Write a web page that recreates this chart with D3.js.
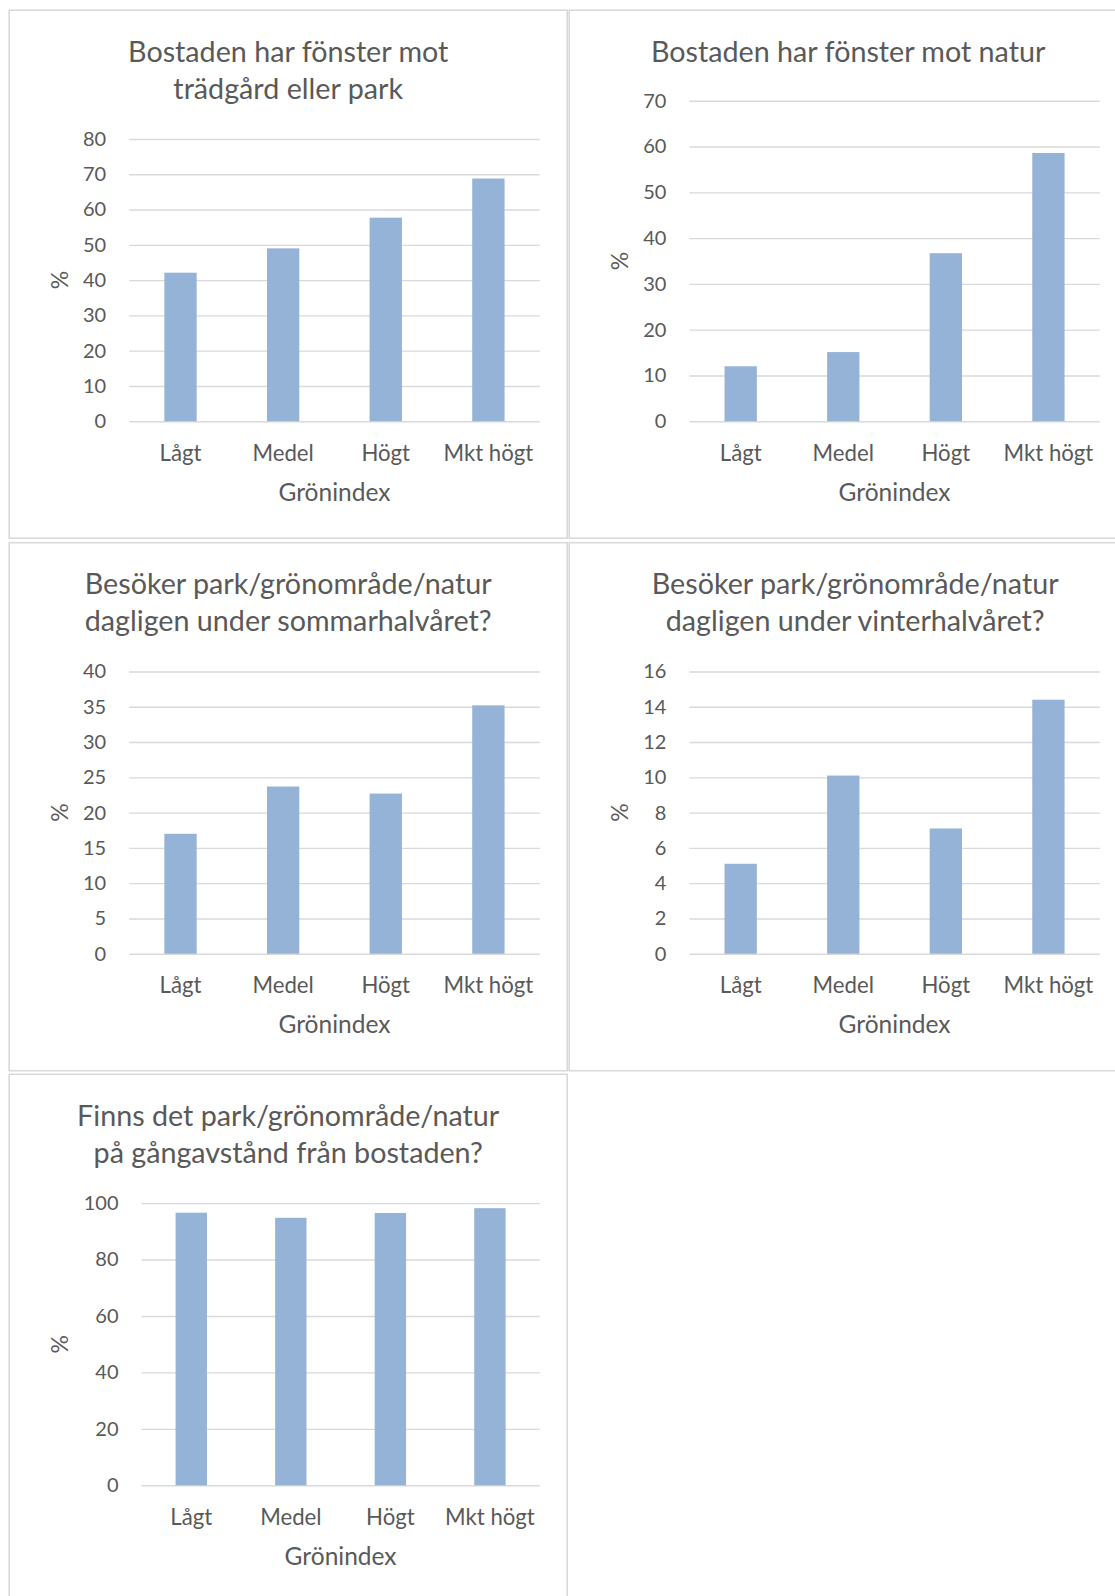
<!DOCTYPE html>
<html>
<head>
<meta charset="utf-8">
<script src="https://cdn.jsdelivr.net/npm/d3@7"></script>
<style>
  html, body { margin: 0; padding: 0; background: #ffffff; }
  svg { display: block; }
  text { font-family: Lato, "Open Sans", sans-serif; fill: #595959; }
</style>
</head>
<body>
<svg id="chart" width="1115" height="1596"></svg>
<script>
// Category axis shared by all five panels
const categories = ["Lågt", "Medel", "Högt", "Mkt högt"];

// Share (%) per green-index group
const windowGardenValues   = [42.1, 49.0, 57.7, 68.8];
const windowNatureValues   = [12.0, 15.1, 36.7, 58.6];
const visitSummerValues    = [17.0, 23.7, 22.7, 35.2];
const visitWinterValues    = [5.1, 10.1, 7.1, 14.4];
const walkingDistValues    = [96.6, 94.8, 96.5, 98.2];

// Y tick values per panel
const windowGardenTicks = [0, 10, 20, 30, 40, 50, 60, 70, 80];
const windowNatureTicks = [0, 10, 20, 30, 40, 50, 60, 70];
const visitSummerTicks  = [0, 5, 10, 15, 20, 25, 30, 35, 40];
const visitWinterTicks  = [0, 2, 4, 6, 8, 10, 12, 14, 16];
const walkingDistTicks  = [0, 20, 40, 60, 80, 100];

// Panel titles (one entry per line)
const windowGardenTitle = ["Bostaden har fönster mot", "trädgård eller park"];
const windowNatureTitle = ["Bostaden har fönster mot natur"];
const visitSummerTitle  = ["Besöker park/grönområde/natur", "dagligen under sommarhalvåret?"];
const visitWinterTitle  = ["Besöker park/grönområde/natur", "dagligen under vinterhalvåret?"];
const walkingDistTitle  = ["Finns det park/grönområde/natur", "på gångavstånd från bostaden?"];

const xAxisTitle = "Grönindex";
const yAxisTitle = "%";

const panels = [
  { x: 9.2,   y: 10.2,   title: windowGardenTitle, values: windowGardenValues, ticks: windowGardenTicks, left: 120.0, titleDx: 0 },
  { x: 569.2, y: 10.2,   title: windowNatureTitle, values: windowNatureValues, ticks: windowNatureTicks, left: 120.2, titleDx: 0 },
  { x: 9.2,   y: 542.7,  title: visitSummerTitle,  values: visitSummerValues,  ticks: visitSummerTicks,  left: 120.0, titleDx: 0 },
  { x: 569.2, y: 542.7,  title: visitWinterTitle,  values: visitWinterValues,  ticks: visitWinterTicks,  left: 120.2, titleDx: 7 },
  { x: 9.2,   y: 1074.3, title: walkingDistTitle,  values: walkingDistValues,  ticks: walkingDistTicks,  left: 132.3, titleDx: 0 }
];

const PANEL_W = 558, PANEL_H = 528;
const PLOT_RIGHT = 530.5, PLOT_BOTTOM = 411;
const BAR_COLOR = "#95b3d7", GRID_COLOR = "#d9d9d9";

const svg = d3.select("#chart");

panels.forEach(p => {
  const g = svg.append("g").attr("transform", `translate(${p.x},${p.y})`);

  // panel frame
  g.append("rect")
    .attr("x", 0).attr("y", 0)
    .attr("width", PANEL_W).attr("height", PANEL_H)
    .attr("fill", "#ffffff")
    .attr("stroke", GRID_COLOR).attr("stroke-width", 1.6);

  // title
  const titleLineGap = 37;
  const titleFirstY = 40.5;
  g.append("g").selectAll("text")
    .data(p.title)
    .join("text")
    .attr("x", PANEL_W / 2 + p.titleDx)
    .attr("y", (d, i) => titleFirstY + i * titleLineGap)
    .attr("text-anchor", "middle")
    .attr("dominant-baseline", "central")
    .attr("font-size", 28.7)
    .text(d => d);

  const top = p.title.length > 1 ? 128.8 : 90.6;

  const x = d3.scaleBand()
    .domain(categories)
    .range([p.left, PLOT_RIGHT])
    .paddingInner(0.685)
    .paddingOuter(0.3425);

  const y = d3.scaleLinear()
    .domain([0, d3.max(p.ticks)])
    .range([PLOT_BOTTOM, top]);

  // horizontal gridlines + value labels
  const yAxis = d3.axisLeft(y)
    .tickValues(p.ticks)
    .tickSize(-(PLOT_RIGHT - p.left))
    .tickPadding(23)
    .tickFormat(d3.format("d"));

  const ya = g.append("g")
    .attr("transform", `translate(${p.left},0)`)
    .call(yAxis);
  ya.select(".domain").remove();
  ya.selectAll(".tick line").attr("stroke", GRID_COLOR).attr("stroke-width", 1.4);
  ya.selectAll(".tick text")
    .attr("font-size", 20)
    .attr("font-family", "Lato, sans-serif")
    .attr("fill", "#595959");

  // bars
  g.append("g").selectAll("rect")
    .data(p.values)
    .join("rect")
    .attr("x", (d, i) => x(categories[i]))
    .attr("y", d => y(d))
    .attr("width", x.bandwidth())
    .attr("height", d => PLOT_BOTTOM - y(d))
    .attr("fill", BAR_COLOR);

  // category axis (labels only)
  const xAxis = d3.axisBottom(x).tickSize(0).tickPadding(0);
  const xa = g.append("g")
    .attr("transform", `translate(0,${PLOT_BOTTOM})`)
    .call(xAxis);
  xa.select(".domain").remove();
  xa.selectAll(".tick text")
    .attr("y", 31)
    .attr("dy", null)
    .attr("dominant-baseline", "central")
    .attr("font-size", 22.2)
    .attr("font-family", "Lato, sans-serif")
    .attr("fill", "#595959");

  // axis titles
  g.append("text")
    .attr("x", (p.left + PLOT_RIGHT) / 2)
    .attr("y", PLOT_BOTTOM + 70)
    .attr("text-anchor", "middle")
    .attr("dominant-baseline", "central")
    .attr("font-size", 24.5)
    .text(xAxisTitle);

  g.append("text")
    .attr("transform", `translate(50,${(top + PLOT_BOTTOM) / 2}) rotate(-90)`)
    .attr("text-anchor", "middle")
    .attr("dominant-baseline", "central")
    .attr("font-size", 23)
    .text(yAxisTitle);
});
</script>
</body>
</html>
